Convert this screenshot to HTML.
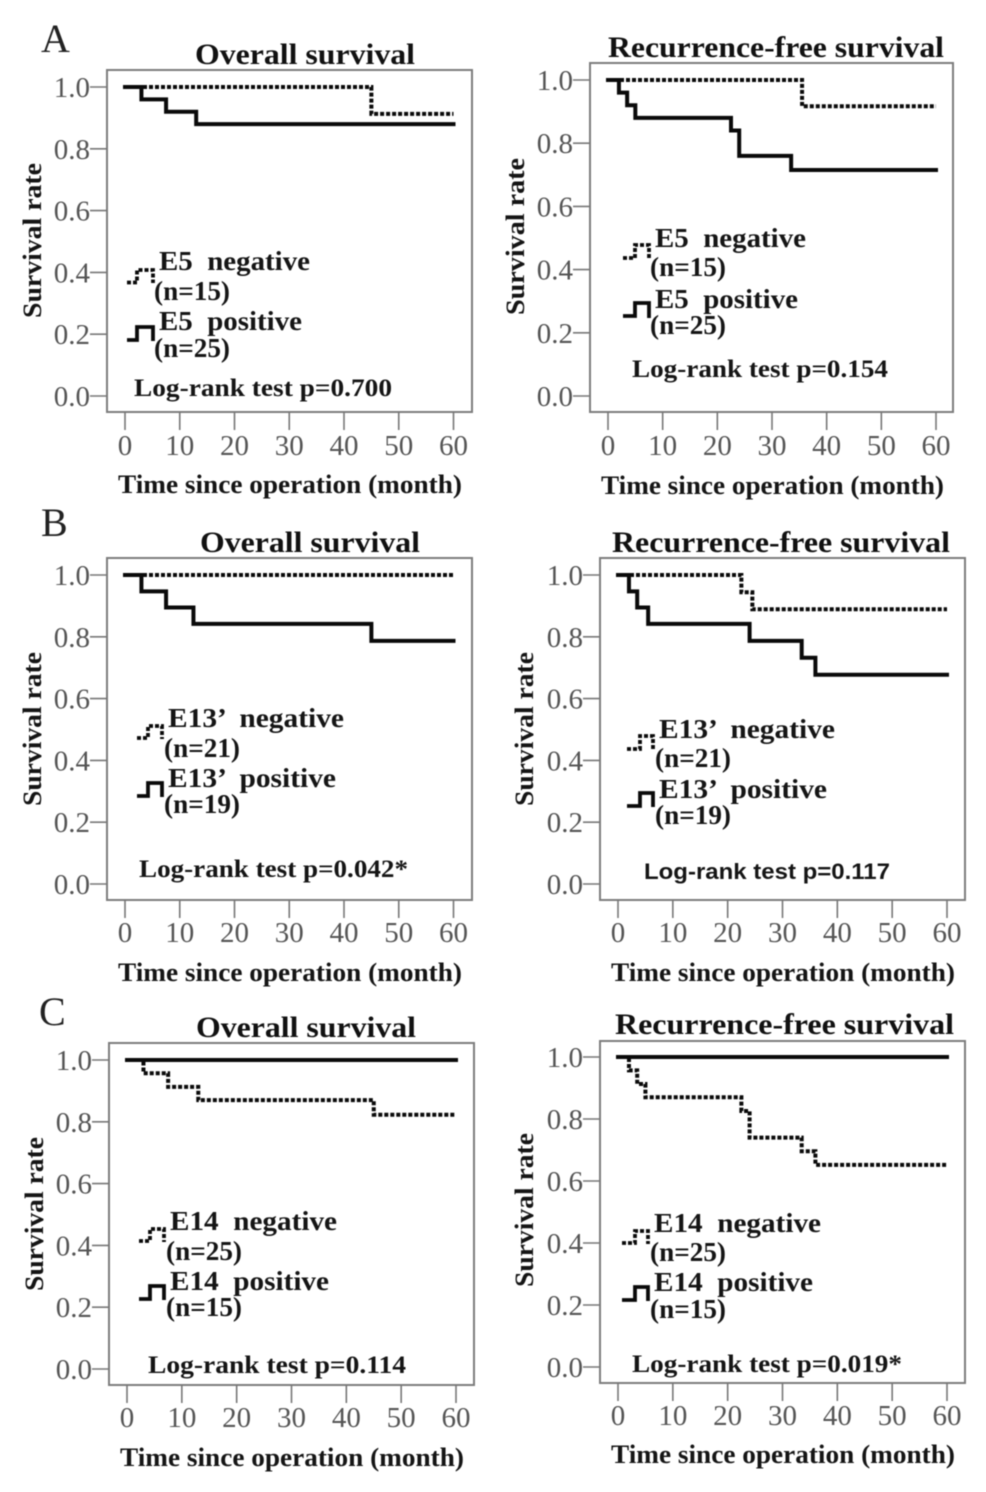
<!DOCTYPE html>
<html lang="en">
<head>
<meta charset="utf-8">
<title>Survival curves</title>
<style>
html,body{margin:0;padding:0;background:#fff;}
svg{display:block;filter:blur(0.5px);}
text{font-family:"Liberation Serif",serif;}
.title{font-weight:bold;font-size:30px;fill:#111;}
.letter{font-size:40px;fill:#222;}
.axis-title{font-weight:bold;font-size:26px;fill:#151515;}
.legend{font-weight:bold;font-size:27px;fill:#151515;}
.logrank{font-weight:bold;font-size:25px;fill:#151515;}
.logsans{font-family:"Liberation Sans",sans-serif;font-weight:bold;font-size:22px;fill:#151515;}
.frame{fill:#fff;stroke:#7d7d7d;stroke-width:2;}
.tick{stroke:#777;stroke-width:1.6;}
.ticklabel{font-size:29px;fill:#555;}
.curve{fill:none;stroke:#0a0a0a;stroke-width:4;}
.solid{stroke-linecap:square;}
.dashed{stroke-dasharray:4 2;}
.key{fill:none;stroke:#0a0a0a;stroke-width:3.8;}
</style>
</head>
<body>
<svg id="figure" xmlns="http://www.w3.org/2000/svg" width="986" height="1492" viewBox="0 0 986 1492">
<rect width="986" height="1492" fill="#fff"/>

<text class="letter" x="41" y="52">A</text>
<text class="letter" x="41" y="536">B</text>
<text class="letter" x="39" y="1025">C</text>

<!-- A left -->
<g>
<rect class="frame" x="107" y="70" width="365" height="342"/>
<g id="aOs"></g>
<text class="title" x="195" y="64" textLength="220" lengthAdjust="spacingAndGlyphs">Overall survival</text>
<text class="axis-title" transform="translate(41,318) rotate(-90)" textLength="155" lengthAdjust="spacingAndGlyphs">Survival rate</text>
<text class="axis-title" x="118" y="493" textLength="344" lengthAdjust="spacingAndGlyphs">Time since operation (month)</text>
<path class="key dashed" d="M127 282.500H137V270H153V283"/>
<path class="key" d="M127 340H137V327H153V341"/>
<text class="legend" x="159" y="270" xml:space="preserve" textLength="151" lengthAdjust="spacingAndGlyphs">E5  negative</text>
<text class="legend" x="154" y="300" textLength="76" lengthAdjust="spacingAndGlyphs">(n=15)</text>
<text class="legend" x="159" y="330" xml:space="preserve" textLength="143" lengthAdjust="spacingAndGlyphs">E5  positive</text>
<text class="legend" x="154" y="357" textLength="76" lengthAdjust="spacingAndGlyphs">(n=25)</text>
<text class="logrank" x="134" y="396" textLength="258" lengthAdjust="spacingAndGlyphs">Log-rank test p=0.700</text>
</g>

<!-- A right -->
<g>
<rect class="frame" x="590" y="63" width="363" height="349"/>
<g id="aRfs"></g>
<text class="title" x="608" y="57" textLength="336" lengthAdjust="spacingAndGlyphs">Recurrence-free survival</text>
<text class="axis-title" transform="translate(524,315) rotate(-90)" textLength="157" lengthAdjust="spacingAndGlyphs">Survival rate</text>
<text class="axis-title" x="601" y="494" textLength="343" lengthAdjust="spacingAndGlyphs">Time since operation (month)</text>
<path class="key dashed" d="M623 258H635V245H649V259"/>
<path class="key" d="M623 316H635V303H649V318"/>
<text class="legend" x="655" y="247" xml:space="preserve" textLength="151" lengthAdjust="spacingAndGlyphs">E5  negative</text>
<text class="legend" x="650" y="276" textLength="76" lengthAdjust="spacingAndGlyphs">(n=15)</text>
<text class="legend" x="655" y="308" xml:space="preserve" textLength="143" lengthAdjust="spacingAndGlyphs">E5  positive</text>
<text class="legend" x="650" y="334" textLength="76" lengthAdjust="spacingAndGlyphs">(n=25)</text>
<text class="logrank" x="632" y="377" textLength="256" lengthAdjust="spacingAndGlyphs">Log-rank test p=0.154</text>
</g>

<!-- B left -->
<g>
<rect class="frame" x="107" y="558" width="365" height="342"/>
<g id="bOs"></g>
<text class="title" x="200" y="552" textLength="220" lengthAdjust="spacingAndGlyphs">Overall survival</text>
<text class="axis-title" transform="translate(41,806) rotate(-90)" textLength="154" lengthAdjust="spacingAndGlyphs">Survival rate</text>
<text class="axis-title" x="118" y="981" textLength="344" lengthAdjust="spacingAndGlyphs">Time since operation (month)</text>
<path class="key dashed" d="M137 738H148V726H162V739"/>
<path class="key" d="M137 796H148V783H162V797"/>
<text class="legend" x="168" y="727" xml:space="preserve" textLength="176" lengthAdjust="spacingAndGlyphs">E13’  negative</text>
<text class="legend" x="164" y="757" textLength="76" lengthAdjust="spacingAndGlyphs">(n=21)</text>
<text class="legend" x="168" y="787" xml:space="preserve" textLength="168" lengthAdjust="spacingAndGlyphs">E13’  positive</text>
<text class="legend" x="164" y="813" textLength="76" lengthAdjust="spacingAndGlyphs">(n=19)</text>
<text class="logrank" x="139" y="877" textLength="269" lengthAdjust="spacingAndGlyphs">Log-rank test p=0.042*</text>
</g>

<!-- B right -->
<g>
<rect class="frame" x="600" y="558" width="365" height="342"/>
<g id="bRfs"></g>
<text class="title" x="612" y="552" textLength="338" lengthAdjust="spacingAndGlyphs">Recurrence-free survival</text>
<text class="axis-title" transform="translate(533,806) rotate(-90)" textLength="154" lengthAdjust="spacingAndGlyphs">Survival rate</text>
<text class="axis-title" x="611" y="981" textLength="344" lengthAdjust="spacingAndGlyphs">Time since operation (month)</text>
<path class="key dashed" d="M627 749H640V736H653V750"/>
<path class="key" d="M627 806H640V793H653V807"/>
<text class="legend" x="659" y="738" xml:space="preserve" textLength="176" lengthAdjust="spacingAndGlyphs">E13’  negative</text>
<text class="legend" x="655" y="767" textLength="76" lengthAdjust="spacingAndGlyphs">(n=21)</text>
<text class="legend" x="659" y="798" xml:space="preserve" textLength="168" lengthAdjust="spacingAndGlyphs">E13’  positive</text>
<text class="legend" x="655" y="824" textLength="76" lengthAdjust="spacingAndGlyphs">(n=19)</text>
<text class="logsans" x="644" y="879" textLength="246" lengthAdjust="spacingAndGlyphs">Log-rank test p=0.117</text>
</g>

<!-- C left -->
<g>
<rect class="frame" x="109" y="1043" width="365" height="342"/>
<g id="cOs"></g>
<text class="title" x="196" y="1037" textLength="220" lengthAdjust="spacingAndGlyphs">Overall survival</text>
<text class="axis-title" transform="translate(43,1291) rotate(-90)" textLength="154" lengthAdjust="spacingAndGlyphs">Survival rate</text>
<text class="axis-title" x="120" y="1466" textLength="344" lengthAdjust="spacingAndGlyphs">Time since operation (month)</text>
<path class="key dashed" d="M139 1241H150V1229H164V1242"/>
<path class="key" d="M139 1299H150V1286H164V1300"/>
<text class="legend" x="170" y="1230" xml:space="preserve" textLength="167" lengthAdjust="spacingAndGlyphs">E14  negative</text>
<text class="legend" x="166" y="1260" textLength="76" lengthAdjust="spacingAndGlyphs">(n=25)</text>
<text class="legend" x="170" y="1290" xml:space="preserve" textLength="159" lengthAdjust="spacingAndGlyphs">E14  positive</text>
<text class="legend" x="166" y="1316" textLength="76" lengthAdjust="spacingAndGlyphs">(n=15)</text>
<text class="logrank" x="148" y="1373" textLength="258" lengthAdjust="spacingAndGlyphs">Log-rank test p=0.114</text>
</g>

<!-- C right -->
<g>
<rect class="frame" x="600" y="1041" width="365" height="342"/>
<g id="cRfs"></g>
<text class="title" x="615" y="1034" textLength="339" lengthAdjust="spacingAndGlyphs">Recurrence-free survival</text>
<text class="axis-title" transform="translate(533,1287) rotate(-90)" textLength="154" lengthAdjust="spacingAndGlyphs">Survival rate</text>
<text class="axis-title" x="611" y="1463" textLength="344" lengthAdjust="spacingAndGlyphs">Time since operation (month)</text>
<path class="key dashed" d="M622 1243H635V1231H648V1244"/>
<path class="key" d="M622 1300H635V1287H648V1301"/>
<text class="legend" x="654" y="1232" xml:space="preserve" textLength="167" lengthAdjust="spacingAndGlyphs">E14  negative</text>
<text class="legend" x="650" y="1261" textLength="76" lengthAdjust="spacingAndGlyphs">(n=25)</text>
<text class="legend" x="654" y="1291" xml:space="preserve" textLength="159" lengthAdjust="spacingAndGlyphs">E14  positive</text>
<text class="legend" x="650" y="1318" textLength="76" lengthAdjust="spacingAndGlyphs">(n=15)</text>
<text class="logrank" x="632" y="1372" textLength="270" lengthAdjust="spacingAndGlyphs">Log-rank test p=0.019*</text>
</g>
</svg>

<script>
// Tick labels
const xTicks = [0, 10, 20, 30, 40, 50, 60];
const yTicks = [0.0, 0.2, 0.4, 0.6, 0.8, 1.0];
const followUpEnd = 60;

// Event times (months) and survival after each event
const aOsNegTimes = [45];
const aOsNegSurvival = [0.913];
const aOsPosTimes = [3, 7.5, 13];
const aOsPosSurvival = [0.96, 0.92, 0.88];

const aRfsNegTimes = [35.5];
const aRfsNegSurvival = [0.917];
const aRfsPosTimes = [2, 3.5, 5, 22.5, 24, 33.5];
const aRfsPosSurvival = [0.96, 0.92, 0.88, 0.84, 0.76, 0.715];

const bOsNegTimes = [];
const bOsNegSurvival = [];
const bOsPosTimes = [3, 7.5, 12.5, 45];
const bOsPosSurvival = [0.947, 0.895, 0.842, 0.787];

const bRfsNegTimes = [22.5, 24.5];
const bRfsNegSurvival = [0.944, 0.889];
const bRfsPosTimes = [2, 3.5, 5.5, 24, 33.5, 36];
const bRfsPosSurvival = [0.947, 0.895, 0.842, 0.787, 0.732, 0.677];

const cOsNegTimes = [3, 7.5, 13, 45];
const cOsNegSurvival = [0.957, 0.913, 0.87, 0.823];
const cOsPosTimes = [];
const cOsPosSurvival = [];

const cRfsNegTimes = [2, 3.5, 5, 22.5, 24, 33.5, 36];
const cRfsNegSurvival = [0.957, 0.913, 0.87, 0.826, 0.74, 0.696, 0.652];
const cRfsPosTimes = [];
const cRfsPosSurvival = [];

const SVG_NS = 'http://www.w3.org/2000/svg';

function drawChart(targetId, frame, negTimes, negSurvival, posTimes, posSurvival) {
  const g = document.getElementById(targetId);
  const xScale = function (t) { return frame.x0 + (t / 60) * (frame.x60 - frame.x0); };
  const yScale = function (s) { return frame.y0 + s * (frame.y1 - frame.y0); };

  xTicks.forEach(function (t) {
    const line = document.createElementNS(SVG_NS, 'line');
    line.setAttribute('class', 'tick');
    line.setAttribute('x1', xScale(t));
    line.setAttribute('x2', xScale(t));
    line.setAttribute('y1', frame.bottom);
    line.setAttribute('y2', frame.bottom + 18);
    
    
    g.appendChild(line);

    const label = document.createElementNS(SVG_NS, 'text');
    label.setAttribute('class', 'ticklabel');
    label.setAttribute('x', xScale(t));
    label.setAttribute('y', frame.tickBaseline);
    label.setAttribute('text-anchor', 'middle');
    
    
    label.textContent = String(t);
    g.appendChild(label);
  });

  yTicks.forEach(function (s) {
    const line = document.createElementNS(SVG_NS, 'line');
    line.setAttribute('class', 'tick');
    line.setAttribute('x1', frame.left - 17);
    line.setAttribute('x2', frame.left);
    line.setAttribute('y1', yScale(s));
    line.setAttribute('y2', yScale(s));
    
    
    g.appendChild(line);

    const label = document.createElementNS(SVG_NS, 'text');
    label.setAttribute('class', 'ticklabel');
    label.setAttribute('x', frame.left - 17);
    label.setAttribute('y', yScale(s) + 10);
    label.setAttribute('text-anchor', 'end');
    
    
    label.textContent = s.toFixed(1);
    g.appendChild(label);
  });

  const stepPath = function (times, survival) {
    let d = 'M' + xScale(0) + ' ' + yScale(1);
    times.forEach(function (t, i) {
      d += 'H' + xScale(t) + 'V' + yScale(survival[i]);
    });
    return d + 'H' + xScale(followUpEnd);
  };

  const negCurve = document.createElementNS(SVG_NS, 'path');
  negCurve.setAttribute('class', 'curve dashed');
  negCurve.setAttribute('d', stepPath(negTimes, negSurvival));
  
  
  g.appendChild(negCurve);

  const posCurve = document.createElementNS(SVG_NS, 'path');
  posCurve.setAttribute('class', 'curve solid');
  posCurve.setAttribute('d', stepPath(posTimes, posSurvival));
  
  
  g.appendChild(posCurve);
}

drawChart('aOs',  {left: 107, bottom: 412, x0: 125, x60: 453.5, y1: 87, y0: 396, tickBaseline: 455}, aOsNegTimes, aOsNegSurvival, aOsPosTimes, aOsPosSurvival);
drawChart('aRfs', {left: 590, bottom: 412, x0: 608, x60: 936, y1: 80, y0: 396, tickBaseline: 455}, aRfsNegTimes, aRfsNegSurvival, aRfsPosTimes, aRfsPosSurvival);
drawChart('bOs',  {left: 107, bottom: 900, x0: 125, x60: 453.5, y1: 575, y0: 884, tickBaseline: 942}, bOsNegTimes, bOsNegSurvival, bOsPosTimes, bOsPosSurvival);
drawChart('bRfs', {left: 600, bottom: 900, x0: 618, x60: 947, y1: 575, y0: 884, tickBaseline: 942}, bRfsNegTimes, bRfsNegSurvival, bRfsPosTimes, bRfsPosSurvival);
drawChart('cOs',  {left: 109, bottom: 1385, x0: 127, x60: 456, y1: 1060, y0: 1369, tickBaseline: 1427}, cOsNegTimes, cOsNegSurvival, cOsPosTimes, cOsPosSurvival);
drawChart('cRfs', {left: 600, bottom: 1383, x0: 618, x60: 947, y1: 1057, y0: 1367, tickBaseline: 1425}, cRfsNegTimes, cRfsNegSurvival, cRfsPosTimes, cRfsPosSurvival);
</script>
</body>
</html>
